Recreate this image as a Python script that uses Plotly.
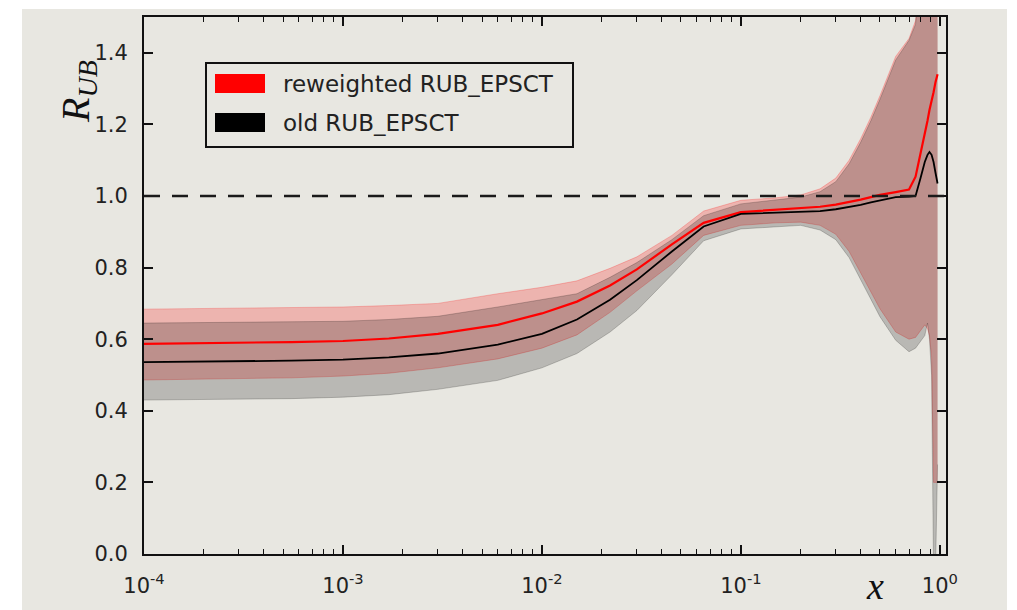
import plotly.graph_objects as go

# ---- data -------------------------------------------------------------
x = [1e-4, 1.7e-4, 3e-4, 5.5e-4, 1e-3, 1.7e-3, 3e-3, 6e-3, 1e-2, 1.5e-2,
     2.2e-2, 3e-2, 4.5e-2, 6.5e-2, 0.1, 0.15, 0.2, 0.25, 0.3, 0.35,
     0.4, 0.45, 0.5, 0.6, 0.7, 0.755, 0.80, 0.84, 0.867, 0.887,
     0.909, 0.93, 0.951, 0.974]

# reweighted RUB_EPSCT: central value and uncertainty band
rew_mid = [0.587, 0.588, 0.590, 0.592, 0.595, 0.602, 0.615, 0.640, 0.672, 0.705,
           0.750, 0.795, 0.865, 0.925, 0.955, 0.962, 0.966, 0.970, 0.976, 0.983,
           0.990, 0.997, 1.003, 1.011, 1.018, 1.054, 1.118, 1.170, 1.210, 1.240,
           1.262, 1.290, 1.318, 1.340]
rew_hi = [0.684, 0.685, 0.687, 0.688, 0.690, 0.694, 0.700, 0.727, 0.745, 0.763,
          0.798, 0.830, 0.890, 0.958, 0.988, 0.995, 1.003, 1.020, 1.050, 1.100,
          1.160, 1.220, 1.280, 1.390, 1.440, 1.490, 1.600, 1.700, 1.700, 1.700,
          1.700, 1.700, 1.700, 1.700]
rew_lo = [0.486, 0.487, 0.490, 0.492, 0.497, 0.505, 0.520, 0.545, 0.575, 0.612,
          0.675, 0.735, 0.810, 0.890, 0.918, 0.925, 0.927, 0.918, 0.893, 0.845,
          0.785, 0.730, 0.685, 0.620, 0.600, 0.605, 0.625, 0.640, 0.630, 0.610,
          0.550, 0.200, 0.200, 0.200]

# old RUB_EPSCT: central value and uncertainty band
old_mid = [0.536, 0.537, 0.538, 0.540, 0.543, 0.549, 0.560, 0.585, 0.615, 0.655,
           0.710, 0.765, 0.845, 0.915, 0.950, 0.953, 0.955, 0.958, 0.963, 0.969,
           0.975, 0.982, 0.988, 0.997, 0.998, 1.000, 1.050, 1.095, 1.115, 1.123,
           1.115, 1.095, 1.065, 1.035]
old_hi = [0.645, 0.646, 0.647, 0.648, 0.650, 0.655, 0.664, 0.690, 0.710, 0.727,
          0.773, 0.814, 0.878, 0.945, 0.978, 0.990, 0.997, 1.012, 1.040, 1.090,
          1.150, 1.210, 1.270, 1.380, 1.435, 1.480, 1.700, 1.700, 1.700, 1.700,
          1.700, 1.700, 1.700, 1.700]
old_lo = [0.430, 0.431, 0.432, 0.434, 0.438, 0.445, 0.460, 0.485, 0.520, 0.560,
          0.620, 0.680, 0.780, 0.875, 0.908, 0.915, 0.918, 0.905, 0.878, 0.828,
          0.765, 0.710, 0.663, 0.597, 0.565, 0.575, 0.595, 0.610, 0.645, 0.600,
          0.500, -0.050, -0.050, 0.250]

labels = ["reweighted RUB_EPSCT", "old RUB_EPSCT"]
y_ticks = [0.0, 0.2, 0.4, 0.6, 0.8, 1.0, 1.2, 1.4]
x_ticks = [1e-4, 1e-3, 1e-2, 1e-1, 1e0]
x_ticktext = ["10<sup>-4</sup>", "10<sup>-3</sup>", "10<sup>-2</sup>",
              "10<sup>-1</sup>", "10<sup>0</sup>"]
# minor ticks at 2..9 within each decade
x_minor = [m * d for d in x_ticks[:-1] for m in range(2, 10)]

# ---- layout geometry (pixels) -----------------------------------------
W, H = 1017, 610
ML, MR, MT, MB = 144, 71, 17, 56
PW, PH = W - ML - MR, H - MT - MB


def px(xp):
    return (xp - ML) / PW


def py(yp):
    return (H - MB - yp) / PH


RED_FILL = "rgba(255,0,0,0.22)"
BLK_FILL = "rgba(0,0,0,0.2)"
TXT = "#222222"

fig = go.Figure()

# uncertainty bands (red first, grey drawn over it)
fig.add_trace(go.Scatter(x=x, y=rew_lo, mode="lines",
                         line=dict(color=RED_FILL, width=1), showlegend=False,
                         hoverinfo="skip"))
fig.add_trace(go.Scatter(x=x, y=rew_hi, mode="lines", fill="tonexty",
                         fillcolor=RED_FILL, line=dict(color=RED_FILL, width=1),
                         showlegend=False, hoverinfo="skip"))
fig.add_trace(go.Scatter(x=x, y=old_lo, mode="lines",
                         line=dict(color=BLK_FILL, width=1), showlegend=False,
                         hoverinfo="skip"))
fig.add_trace(go.Scatter(x=x, y=old_hi, mode="lines", fill="tonexty",
                         fillcolor=BLK_FILL, line=dict(color=BLK_FILL, width=1),
                         showlegend=False, hoverinfo="skip"))

# central curves
fig.add_trace(go.Scatter(x=x, y=rew_mid, mode="lines", name=labels[0],
                         line=dict(color="#ff0000", width=2.2), showlegend=False))
fig.add_trace(go.Scatter(x=x, y=old_mid, mode="lines", name=labels[1],
                         line=dict(color="#000000", width=1.8), showlegend=False))

shapes = [
    # page background
    dict(type="rect", xref="paper", yref="paper", x0=px(22), x1=px(1007),
         y0=py(H + 5), y1=py(9), fillcolor="#e8e7e1", line=dict(width=0),
         layer="below"),
    # reference line at unity
    dict(type="line", xref="paper", yref="y", x0=0, x1=1, y0=1.0, y1=1.0,
         line=dict(color="#1a1a1a", width=2.5, dash="16px,12px"), layer="above"),
    # legend frame and patches
    dict(type="rect", xref="paper", yref="paper", x0=px(206), x1=px(573),
         y0=py(147), y1=py(63), line=dict(color="#111111", width=2),
         fillcolor="rgba(0,0,0,0)", layer="above"),
    dict(type="rect", xref="paper", yref="paper", x0=px(215), x1=px(265),
         y0=py(93), y1=py(74), line=dict(width=0), fillcolor="#ff0000",
         layer="above"),
    dict(type="rect", xref="paper", yref="paper", x0=px(215), x1=px(265),
         y0=py(132), y1=py(113), line=dict(width=0), fillcolor="#000000",
         layer="above"),
]

annotations = [
    dict(text=labels[0], xref="paper", yref="paper", x=px(281), y=py(84),
         xanchor="left", yanchor="middle", showarrow=False,
         font=dict(family="DejaVu Sans", size=23, color=TXT)),
    dict(text=labels[1], xref="paper", yref="paper", x=px(281), y=py(123),
         xanchor="left", yanchor="middle", showarrow=False,
         font=dict(family="DejaVu Sans", size=23, color=TXT)),
    # axis titles
    dict(text="<i>R</i><sub><i>UB</i></sub>", xref="paper", yref="paper",
         x=px(78), y=py(92), xanchor="center", yanchor="middle",
         textangle=-90, showarrow=False,
         font=dict(family="Liberation Serif", size=40, color="#111111")),
    dict(text="<i>x</i>", xref="paper", yref="paper", x=px(875), y=py(586),
         xanchor="center", yanchor="middle", showarrow=False,
         font=dict(family="Liberation Serif", size=38, color="#111111")),
]

fig.update_layout(
    width=W, height=H,
    margin=dict(l=ML, r=MR, t=MT, b=MB, pad=0),
    paper_bgcolor="white",
    plot_bgcolor="rgba(0,0,0,0)",
    showlegend=False,
    shapes=shapes,
    annotations=annotations,
    font=dict(family="DejaVu Sans", color=TXT),
)

fig.update_xaxes(
    type="log", range=[-4, 0.031],
    tickmode="array", tickvals=x_ticks, ticktext=x_ticktext,
    showgrid=False, zeroline=False,
    showline=True, linecolor="#111111", linewidth=2, mirror="ticks",
    ticks="inside", ticklen=9, tickwidth=1.5, tickcolor="#111111",
    tickfont=dict(family="DejaVu Sans", size=21, color=TXT),
    ticklabelstandoff=12,
    minor=dict(tickmode="array", tickvals=x_minor, ticks="inside", ticklen=5,
               tickwidth=1.2, tickcolor="#111111", showgrid=False),
)
fig.update_yaxes(
    range=[0, 1.5], tickvals=y_ticks, tickformat=".1f",
    showgrid=False, zeroline=False,
    showline=True, linecolor="#111111", linewidth=2, mirror="ticks",
    ticks="inside", ticklen=9, tickwidth=1.5, tickcolor="#111111",
    tickfont=dict(family="DejaVu Sans", size=21, color=TXT),
    ticklabelstandoff=10,
)

fig.write_html("out.html")
